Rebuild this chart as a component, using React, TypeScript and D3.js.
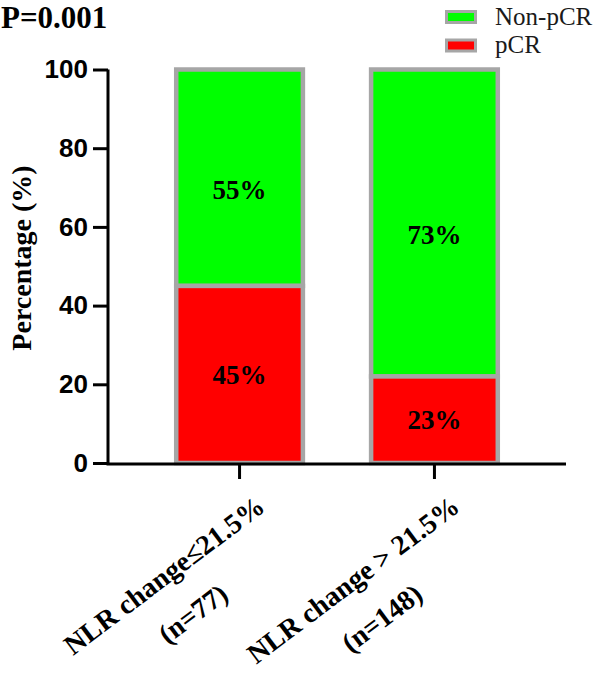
import React, { useEffect, useRef } from "react";
import * as d3 from "d3";

const categories = ["NLR change≤21.5%", "NLR change > 21.5%"];
const sampleSizes = ["(n=77)", "(n=148)"];
const pcrValues = [45, 22];
const nonPcrValues = [55, 78];
const pcrLabels = ["45%", "23%"];
const nonPcrLabels = ["55%", "73%"];
const yTicks = [0, 20, 40, 60, 80, 100];
const legendItems = ["Non-pCR", "pCR"];
const legendColors = ["#00ff00", "#ff0000"];
const title = "P=0.001";
const yTitle = "Percentage (%)";

const W = 602;
const H = 677;
const SERIF = "'Liberation Serif', 'Times New Roman', Times, serif";
const SANS = "'Liberation Sans', Arial, Helvetica, sans-serif";
const GRAY = "#a6a6a6";

export default function App() {
  const ref = useRef<SVGSVGElement | null>(null);

  useEffect(() => {
    const svg = d3.select(ref.current);
    svg.selectAll("*").remove();

    const x = d3.scaleBand<string>().domain(categories).range([108, 566]).padding(0.35);
    const y = d3.scaleLinear().domain([0, 100]).range([463, 69.5]);

    // title
    svg.append("text").attr("x", 1).attr("y", 28)
      .attr("font-family", SERIF).attr("font-weight", "bold").attr("font-size", 31)
      .attr("fill", "#000").text(title);

    // legend
    legendItems.forEach((name, i) => {
      const ly = 11.5 + i * 28.5;
      svg.append("rect").attr("x", 446.5).attr("y", ly).attr("width", 29).attr("height", 11)
        .attr("fill", legendColors[i]).attr("stroke", GRAY).attr("stroke-width", 3);
      svg.append("text").attr("x", 495).attr("y", 25 + i * 28)
        .attr("font-family", SERIF).attr("font-size", 25).attr("fill", "#1a1a1a").text(name);
    });

    // bars
    categories.forEach((c, i) => {
      const x0 = x(c)!;
      const bw = x.bandwidth();
      const pTop = y(pcrValues[i]);
      const nTop = y(pcrValues[i] + nonPcrValues[i]);
      svg.append("rect").attr("x", x0).attr("y", nTop).attr("width", bw).attr("height", pTop - nTop)
        .attr("fill", legendColors[0]).attr("stroke", GRAY).attr("stroke-width", 4.5);
      svg.append("rect").attr("x", x0).attr("y", pTop).attr("width", bw).attr("height", y(0) - pTop)
        .attr("fill", legendColors[1]).attr("stroke", GRAY).attr("stroke-width", 4.5);
      const cx = x0 + bw / 2;
      svg.append("text").attr("x", cx).attr("y", (nTop + pTop) / 2 + 12).attr("dy", "0.34em")
        .attr("text-anchor", "middle").attr("font-family", SERIF).attr("font-weight", "bold")
        .attr("font-size", 27).attr("fill", "#000").text(nonPcrLabels[i]);
      svg.append("text").attr("x", cx).attr("y", (pTop + y(0)) / 2).attr("dy", "0.34em")
        .attr("text-anchor", "middle").attr("font-family", SERIF).attr("font-weight", "bold")
        .attr("font-size", 27).attr("fill", "#000").text(pcrLabels[i]);
    });

    // y axis
    const yAxis = svg.append("g").attr("transform", "translate(108,0)")
      .call(d3.axisLeft(y).tickValues(yTicks).tickSize(15).tickPadding(5).tickFormat(d3.format("d")) as any);
    yAxis.select(".domain").attr("stroke", "#000").attr("stroke-width", 3).attr("d", `M0,${y(0) + 1.5}V${y(100)}`);
    yAxis.selectAll(".tick line").attr("stroke", "#000").attr("stroke-width", 3);
    yAxis.selectAll(".tick text").attr("font-family", SANS).attr("font-weight", "bold")
      .attr("font-size", 26).attr("fill", "#000");

    // x axis
    const xAxis = svg.append("g").attr("transform", `translate(0,${y(0) + 1})`)
      .call(d3.axisBottom(x).tickSize(15).tickFormat(() => "") as any);
    xAxis.select(".domain").attr("stroke", "#000").attr("stroke-width", 3).attr("d", `M106.5,0H566`);
    xAxis.selectAll(".tick line").attr("stroke", "#000").attr("stroke-width", 3);

    // x labels
    categories.forEach((c, i) => {
      const cx = x(c)! + x.bandwidth() / 2;
      const g = svg.append("g").attr("transform", `translate(${cx + 27},510) rotate(-37)`);
      const t1 = g.append("text").attr("x", 0).attr("y", 0).attr("text-anchor", "end")
        .attr("font-family", SERIF).attr("font-weight", "bold").attr("font-size", 28)
        .attr("fill", "#000").text(c);
      const len = (t1.node() as SVGTextElement).getComputedTextLength();
      g.append("text").attr("x", -len / 2).attr("y", 48).attr("text-anchor", "middle")
        .attr("font-family", SERIF).attr("font-weight", "bold").attr("font-size", 28)
        .attr("fill", "#000").text(sampleSizes[i]);
    });

    // y title
    svg.append("text").attr("transform", "translate(31,258) rotate(-90)").attr("text-anchor", "middle")
      .attr("font-family", SERIF).attr("font-weight", "bold").attr("font-size", 28)
      .attr("fill", "#000").text(yTitle);
  }, []);

  return (
    <svg ref={ref} width={W} height={H} style={{ position: "absolute", left: 0, top: 0, background: "#fff" }} />
  );
}
